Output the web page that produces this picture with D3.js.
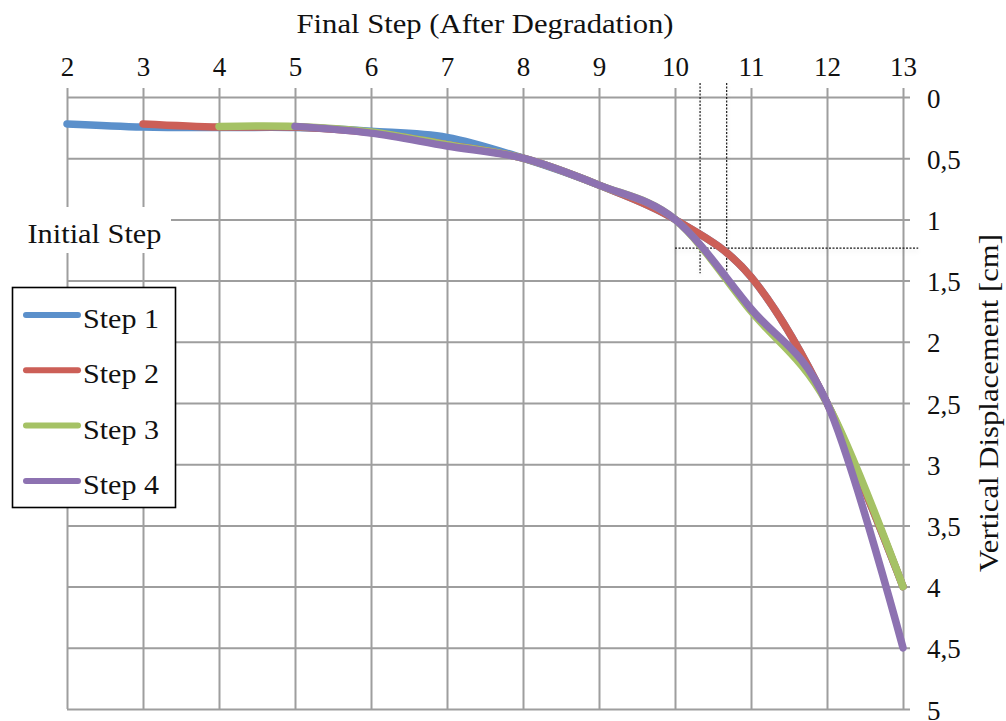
<!DOCTYPE html>
<html>
<head>
<meta charset="utf-8">
<script src="https://cdn.jsdelivr.net/npm/d3@7/dist/d3.min.js"></script>
<style>
  html, body { margin: 0; padding: 0; background: #fff; }
  svg { display: block; }
  text { font-family: "Liberation Serif", "DejaVu Serif", serif; fill: #111; }
</style>
</head>
<body>
<svg id="chart" width="1006" height="721"></svg>
<script>
// Degradation steps (x) and vertical displacement in cm (y)
const xTicks = [2, 3, 4, 5, 6, 7, 8, 9, 10, 11, 12, 13];
const yTicks = [0, 0.5, 1, 1.5, 2, 2.5, 3, 3.5, 4, 4.5, 5];
const yTickLabels = ["0", "0,5", "1", "1,5", "2", "2,5", "3", "3,5", "4", "4,5", "5"];

const seriesNames = ["Step 1", "Step 2", "Step 3", "Step 4"];
const seriesColors = ["#5b90cb", "#cc5f57", "#a5c265", "#8d72b1"];

const step1X = [2, 3, 4, 5, 6, 7, 8, 9, 10, 11, 12, 13];
const step1Y = [0.22, 0.245, 0.25, 0.25, 0.28, 0.33, 0.5, 0.72, 1.0, 1.47, 2.5, 4.0];
const step2X = [3, 4, 5, 6, 7, 8, 9, 10, 11, 12, 13];
const step2Y = [0.22, 0.245, 0.245, 0.29, 0.39, 0.5, 0.72, 1.0, 1.47, 2.5, 4.0];
const step3X = [4, 5, 6, 7, 8, 9, 10, 11, 12, 13];
const step3Y = [0.24, 0.24, 0.285, 0.39, 0.5, 0.72, 1.0, 1.75, 2.5, 4.0];
const step4X = [5, 6, 7, 8, 9, 10, 11, 12, 13];
const step4Y = [0.24, 0.295, 0.4, 0.5, 0.72, 1.0, 1.73, 2.5, 4.5];

// Reference lines marking where steps 4 and 2 reach 1.234 cm
const markX = [10.33, 10.68];
const markY = 1.234;

const xTitle = "Final Step (After Degradation)";
const yTitle = "Vertical Displacement [cm]";
const initialLabel = "Initial Step";

const svg = d3.select("#chart");
const plotLeft = 67, plotRight = 903, plotTop = 97, plotBottom = 709;

const x = d3.scaleLinear().domain([2, 13]).range([plotLeft, plotRight]);
const y = d3.scaleLinear().domain([0, 5]).range([plotTop, plotBottom]);

const gridColor = "#9e9e9e";
const serif = "'Liberation Serif', 'DejaVu Serif', serif";

// soft shadow used by the reference lines
const defs = svg.append("defs");
const sh = defs.append("filter").attr("id", "shadow")
  .attr("x", "-20%").attr("y", "-50%").attr("width", "140%").attr("height", "300%");
sh.append("feDropShadow").attr("dx", 0).attr("dy", 3).attr("stdDeviation", 2)
  .attr("flood-color", "#000").attr("flood-opacity", 0.12);

// top axis with vertical gridlines
const xAxis = svg.append("g")
  .attr("transform", `translate(0,${plotTop})`)
  .call(d3.axisTop(x).tickValues(xTicks).tickFormat(d3.format("d")).tickSizeOuter(0));
xAxis.select(".domain").remove();
xAxis.selectAll(".tick line")
  .attr("y1", -9).attr("y2", plotBottom - plotTop)
  .attr("stroke", gridColor).attr("stroke-width", 2);
xAxis.selectAll(".tick text")
  .attr("y", -21).attr("dy", 0)
  .style("font-family", serif).style("font-size", "27px").style("fill", "#111");

// right axis with horizontal gridlines
const yAxis = svg.append("g")
  .attr("transform", `translate(${plotRight},0)`)
  .call(d3.axisRight(y).tickValues(yTicks).tickFormat((d, i) => yTickLabels[i]).tickSizeOuter(0));
yAxis.select(".domain").remove();
yAxis.selectAll(".tick line")
  .attr("x1", plotLeft - plotRight).attr("x2", 7)
  .attr("stroke", gridColor).attr("stroke-width", 2);
yAxis.selectAll(".tick text")
  .attr("x", 24).attr("dy", "10")
  .attr("text-anchor", "start")
  .style("font-family", serif).style("font-size", "27px").style("fill", "#111");

// axis titles
svg.append("text")
  .attr("x", (plotLeft + plotRight) / 2).attr("y", 33)
  .attr("text-anchor", "middle").style("font-size", "28px")
  .attr("textLength", 377).attr("lengthAdjust", "spacingAndGlyphs")
  .text(xTitle);

svg.append("text")
  .attr("transform", `translate(998,${(plotTop + plotBottom) / 2}) rotate(-90)`)
  .attr("text-anchor", "middle").style("font-size", "28px")
  .attr("textLength", 338).attr("lengthAdjust", "spacingAndGlyphs")
  .text(yTitle);

// reference lines
const marks = svg.append("g").attr("filter", "url(#shadow)")
  .attr("stroke", "#1a1a1a").attr("stroke-width", 1.2)
  .attr("stroke-dasharray", "2,1.5").attr("fill", "none");
markX.forEach(v => {
  marks.append("line")
    .attr("x1", x(v)).attr("x2", x(v))
    .attr("y1", y(-0.115)).attr("y2", y(1.44));
});
marks.append("line")
  .attr("x1", x(10)).attr("x2", x(13.2))
  .attr("y1", y(markY)).attr("y2", y(markY));

// series
const seriesData = [
  step1X.map((d, i) => [d, step1Y[i]]),
  step2X.map((d, i) => [d, step2Y[i]]),
  step3X.map((d, i) => [d, step3Y[i]]),
  step4X.map((d, i) => [d, step4Y[i]])
];
const line = d3.line()
  .x(d => x(d[0])).y(d => y(d[1]))
  .curve(d3.curveCardinal.tension(0));

svg.append("g").selectAll("path")
  .data(seriesData)
  .join("path")
  .attr("d", line)
  .attr("fill", "none")
  .attr("stroke", (d, i) => seriesColors[i])
  .attr("stroke-width", 7.5)
  .attr("stroke-linecap", "round")
  .attr("stroke-linejoin", "round");

// "Initial Step" label on a white patch
svg.append("rect")
  .attr("x", 17).attr("y", 207).attr("width", 154).attr("height", 46)
  .attr("fill", "#fff");
svg.append("text")
  .attr("x", 94.5).attr("y", 243)
  .attr("text-anchor", "middle").style("font-size", "28px")
  .attr("textLength", 134).attr("lengthAdjust", "spacingAndGlyphs")
  .text(initialLabel);

// legend
const legend = svg.append("g");
legend.append("rect")
  .attr("x", 12.5).attr("y", 287.5).attr("width", 163).attr("height", 220)
  .attr("fill", "#fff").attr("stroke", "#000").attr("stroke-width", 1.6);
const items = legend.selectAll("g.item")
  .data(seriesNames)
  .join("g")
  .attr("class", "item")
  .attr("transform", (d, i) => `translate(0,${315 + i * 55.3})`);
items.append("line")
  .attr("x1", 26).attr("x2", 78).attr("y1", 0).attr("y2", 0)
  .attr("stroke", (d, i) => seriesColors[i])
  .attr("stroke-width", 6).attr("stroke-linecap", "round");
items.append("text")
  .attr("x", 83).attr("y", 13)
  .style("font-size", "28px")
  .attr("textLength", 76).attr("lengthAdjust", "spacingAndGlyphs")
  .text(d => d);
</script>
</body>
</html>
